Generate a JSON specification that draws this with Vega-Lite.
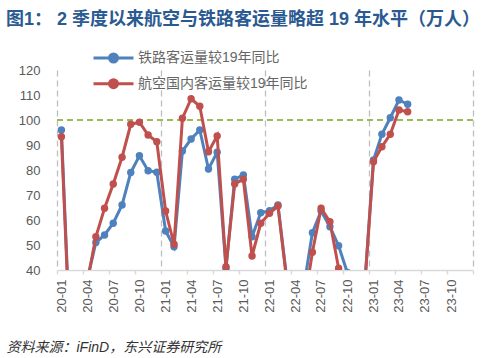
{
  "$schema": "https://vega.github.io/schema/vega-lite/v6.json",
  "width": 416,
  "height": 200,
  "autosize": {"type": "none"},
  "padding": {"left": 57, "top": 70, "right": 8, "bottom": 88},
  "background": "white",
  "title": {
    "text": "图1：  2 季度以来航空与铁路客运量略超 19 年水平（万人）",
    "anchor": "start",
    "frame": "group",
    "dx": -51,
    "dy": -18,
    "fontSize": 18,
    "fontWeight": "bold",
    "color": "#2A5A91",
    "font": "Liberation Sans, Noto Sans CJK SC"
  },
  "config": {
    "font": "Liberation Sans, Noto Sans CJK SC",
    "view": {"stroke": null},
    "legend": {
      "orient": "none",
      "legendX": 49.5,
      "legendY": -19,
      "padding": 0,
      "title": null,
      "symbolType": "M-5,0H5M1,0A1,1,0,1,1,-1,0A1,1,0,1,1,1,0Z",
      "symbolSize": 64,
      "symbolStrokeWidth": 3,
      "labelFontSize": 14,
      "labelColor": "#666666",
      "labelOffset": 17.5,
      "rowPadding": 5.7,
      "labelLimit": 400
    }
  },
  "data": {
    "values": [
      {"m": "2020-01-01", "s": "铁路客运量较19年同比", "v": 96},
      {"m": "2020-02-01", "s": "铁路客运量较19年同比", "v": 14},
      {"m": "2020-03-01", "s": "铁路客运量较19年同比", "v": 25},
      {"m": "2020-04-01", "s": "铁路客运量较19年同比", "v": 36},
      {"m": "2020-05-01", "s": "铁路客运量较19年同比", "v": 51},
      {"m": "2020-06-01", "s": "铁路客运量较19年同比", "v": 54},
      {"m": "2020-07-01", "s": "铁路客运量较19年同比", "v": 58.7},
      {"m": "2020-08-01", "s": "铁路客运量较19年同比", "v": 66},
      {"m": "2020-09-01", "s": "铁路客运量较19年同比", "v": 79},
      {"m": "2020-10-01", "s": "铁路客运量较19年同比", "v": 85.7},
      {"m": "2020-11-01", "s": "铁路客运量较19年同比", "v": 79.7},
      {"m": "2020-12-01", "s": "铁路客运量较19年同比", "v": 79.1},
      {"m": "2021-01-01", "s": "铁路客运量较19年同比", "v": 55.6},
      {"m": "2021-02-01", "s": "铁路客运量较19年同比", "v": 49.3},
      {"m": "2021-03-01", "s": "铁路客运量较19年同比", "v": 87.6},
      {"m": "2021-04-01", "s": "铁路客运量较19年同比", "v": 92.4},
      {"m": "2021-05-01", "s": "铁路客运量较19年同比", "v": 96},
      {"m": "2021-06-01", "s": "铁路客运量较19年同比", "v": 80.4},
      {"m": "2021-07-01", "s": "铁路客运量较19年同比", "v": 87.1},
      {"m": "2021-08-01", "s": "铁路客运量较19年同比", "v": 40.7},
      {"m": "2021-09-01", "s": "铁路客运量较19年同比", "v": 76.3},
      {"m": "2021-10-01", "s": "铁路客运量较19年同比", "v": 78},
      {"m": "2021-11-01", "s": "铁路客运量较19年同比", "v": 53.3},
      {"m": "2021-12-01", "s": "铁路客运量较19年同比", "v": 62.9},
      {"m": "2022-01-01", "s": "铁路客运量较19年同比", "v": 63.7},
      {"m": "2022-02-01", "s": "铁路客运量较19年同比", "v": 66},
      {"m": "2022-03-01", "s": "铁路客运量较19年同比", "v": 38},
      {"m": "2022-04-01", "s": "铁路客运量较19年同比", "v": 20},
      {"m": "2022-05-01", "s": "铁路客运量较19年同比", "v": 33},
      {"m": "2022-06-01", "s": "铁路客运量较19年同比", "v": 54.9},
      {"m": "2022-07-01", "s": "铁路客运量较19年同比", "v": 63.6},
      {"m": "2022-08-01", "s": "铁路客运量较19年同比", "v": 57.3},
      {"m": "2022-09-01", "s": "铁路客运量较19年同比", "v": 49.7},
      {"m": "2022-10-01", "s": "铁路客运量较19年同比", "v": 39},
      {"m": "2022-11-01", "s": "铁路客运量较19年同比", "v": 30},
      {"m": "2022-12-01", "s": "铁路客运量较19年同比", "v": 34},
      {"m": "2023-01-01", "s": "铁路客运量较19年同比", "v": 84},
      {"m": "2023-02-01", "s": "铁路客运量较19年同比", "v": 94.3},
      {"m": "2023-03-01", "s": "铁路客运量较19年同比", "v": 100.9},
      {"m": "2023-04-01", "s": "铁路客运量较19年同比", "v": 108},
      {"m": "2023-05-01", "s": "铁路客运量较19年同比", "v": 106.3},
      {"m": "2020-01-01", "s": "航空国内客运量较19年同比", "v": 93.3},
      {"m": "2020-02-01", "s": "航空国内客运量较19年同比", "v": 12},
      {"m": "2020-03-01", "s": "航空国内客运量较19年同比", "v": 30},
      {"m": "2020-04-01", "s": "航空国内客运量较19年同比", "v": 35},
      {"m": "2020-05-01", "s": "航空国内客运量较19年同比", "v": 53.3},
      {"m": "2020-06-01", "s": "航空国内客运量较19年同比", "v": 64.7},
      {"m": "2020-07-01", "s": "航空国内客运量较19年同比", "v": 74.4},
      {"m": "2020-08-01", "s": "航空国内客运量较19年同比", "v": 85.1},
      {"m": "2020-09-01", "s": "航空国内客运量较19年同比", "v": 98.3},
      {"m": "2020-10-01", "s": "航空国内客运量较19年同比", "v": 99.1},
      {"m": "2020-11-01", "s": "航空国内客运量较19年同比", "v": 94},
      {"m": "2020-12-01", "s": "航空国内客运量较19年同比", "v": 91.3},
      {"m": "2021-01-01", "s": "航空国内客运量较19年同比", "v": 63.6},
      {"m": "2021-02-01", "s": "航空国内客运量较19年同比", "v": 50.3},
      {"m": "2021-03-01", "s": "航空国内客运量较19年同比", "v": 100.7},
      {"m": "2021-04-01", "s": "航空国内客运量较19年同比", "v": 108.5},
      {"m": "2021-05-01", "s": "航空国内客运量较19年同比", "v": 105.5},
      {"m": "2021-06-01", "s": "航空国内客运量较19年同比", "v": 87.3},
      {"m": "2021-07-01", "s": "航空国内客运量较19年同比", "v": 93.6},
      {"m": "2021-08-01", "s": "航空国内客运量较19年同比", "v": 41.3},
      {"m": "2021-09-01", "s": "航空国内客运量较19年同比", "v": 74.4},
      {"m": "2021-10-01", "s": "航空国内客运量较19年同比", "v": 76.3},
      {"m": "2021-11-01", "s": "航空国内客运量较19年同比", "v": 45.6},
      {"m": "2021-12-01", "s": "航空国内客运量较19年同比", "v": 58.7},
      {"m": "2022-01-01", "s": "航空国内客运量较19年同比", "v": 62.7},
      {"m": "2022-02-01", "s": "航空国内客运量较19年同比", "v": 65.6},
      {"m": "2022-03-01", "s": "航空国内客运量较19年同比", "v": 37},
      {"m": "2022-04-01", "s": "航空国内客运量较19年同比", "v": 15},
      {"m": "2022-05-01", "s": "航空国内客运量较19年同比", "v": 25},
      {"m": "2022-06-01", "s": "航空国内客运量较19年同比", "v": 47.1},
      {"m": "2022-07-01", "s": "航空国内客运量较19年同比", "v": 64.7},
      {"m": "2022-08-01", "s": "航空国内客运量较19年同比", "v": 59.3},
      {"m": "2022-09-01", "s": "航空国内客运量较19年同比", "v": 40.7},
      {"m": "2022-10-01", "s": "航空国内客运量较19年同比", "v": 30},
      {"m": "2022-11-01", "s": "航空国内客运量较19年同比", "v": 20},
      {"m": "2022-12-01", "s": "航空国内客运量较19年同比", "v": 33},
      {"m": "2023-01-01", "s": "航空国内客运量较19年同比", "v": 83.3},
      {"m": "2023-02-01", "s": "航空国内客运量较19年同比", "v": 89.3},
      {"m": "2023-03-01", "s": "航空国内客运量较19年同比", "v": 94.3},
      {"m": "2023-04-01", "s": "航空国内客运量较19年同比", "v": 104},
      {"m": "2023-05-01", "s": "航空国内客运量较19年同比", "v": 103.3}
    ]
  },
  "encoding": {
    "x": {
      "field": "m",
      "type": "temporal",
      "timeUnit": "utcyearmonth",
      "bandPosition": 0.5,
      "scale": {
        "type": "utc",
        "domain": [
          {"year": 2020, "month": 1, "date": 1, "utc": true},
          {"year": 2024, "month": 1, "date": 1, "utc": true}
        ]
      },
      "axis": {
        "values": [
          {"year": 2020, "month": 1, "date": 1, "utc": true},
          {"year": 2020, "month": 4, "date": 1, "utc": true},
          {"year": 2020, "month": 7, "date": 1, "utc": true},
          {"year": 2020, "month": 10, "date": 1, "utc": true},
          {"year": 2021, "month": 1, "date": 1, "utc": true},
          {"year": 2021, "month": 4, "date": 1, "utc": true},
          {"year": 2021, "month": 7, "date": 1, "utc": true},
          {"year": 2021, "month": 10, "date": 1, "utc": true},
          {"year": 2022, "month": 1, "date": 1, "utc": true},
          {"year": 2022, "month": 4, "date": 1, "utc": true},
          {"year": 2022, "month": 7, "date": 1, "utc": true},
          {"year": 2022, "month": 10, "date": 1, "utc": true},
          {"year": 2023, "month": 1, "date": 1, "utc": true},
          {"year": 2023, "month": 4, "date": 1, "utc": true},
          {"year": 2023, "month": 7, "date": 1, "utc": true},
          {"year": 2023, "month": 10, "date": 1, "utc": true},
          {"year": 2024, "month": 1, "date": 1, "utc": true}
        ],
        "labelExpr": "utcyear(datum.value) >= 2024 ? '' : utcFormat(datum.value, '%y-%m')",
        "labelAngle": 270,
        "labelOffset": 4.3,
        "labelPadding": 5,
        "labelFontSize": 13,
        "labelColor": "#595959",
        "domainColor": "#D9D9D9",
        "domainWidth": 1.5,
        "tickColor": "#D9D9D9",
        "tickWidth": 1.5,
        "tickSize": 4,
        "grid": true,
        "gridColor": "#BFBFBF",
        "gridDash": [6, 4],
        "gridWidth": 1.3,
        "gridOpacity": {"condition": {"test": "utcmonth(datum.value) == 0", "value": 1}, "value": 0},
        "title": "资料来源：iFinD，东兴证券研究所",
        "titleX": -51,
        "titleY": 77,
        "titleAlign": "left",
        "titleAnchor": "start",
        "titleBaseline": "middle",
        "titleFontStyle": "italic",
        "titleFontWeight": "normal",
        "titleFontSize": 14,
        "titleColor": "#333333"
      }
    },
    "y": {
      "field": "v",
      "type": "quantitative",
      "scale": {"domain": [40, 120], "nice": false, "zero": false},
      "axis": {
        "values": [40, 50, 60, 70, 80, 90, 100, 110, 120],
        "grid": false,
        "domain": false,
        "ticks": false,
        "tickSize": 0,
        "labelPadding": 17,
        "labelFontSize": 13,
        "labelColor": "#595959",
        "title": null
      }
    },
    "color": {
      "field": "s",
      "type": "nominal",
      "scale": {
        "domain": ["铁路客运量较19年同比", "航空国内客运量较19年同比"],
        "range": ["#4F81BD", "#C0504D"]
      },
      "legend": {
        "encode": {
          "symbols": {"update": {"fill": {"scale": "color", "field": "value"}, "stroke": {"scale": "color", "field": "value"}}}
        }
      }
    }
  },
  "layer": [
    {
      "data": {"values": [{"ref": 100}]},
      "mark": {"type": "rule", "color": "#9BBB59", "strokeWidth": 2, "strokeDash": [6, 4]},
      "encoding": {
        "x": null,
        "color": null,
        "y": {"field": "ref", "type": "quantitative"}
      }
    },
    {
      "transform": [{"filter": "datum.s == '铁路客运量较19年同比'"}],
      "mark": {"type": "line", "strokeWidth": 3, "clip": true, "point": {"filled": true, "size": 55}}
    },
    {
      "transform": [{"filter": "datum.s == '航空国内客运量较19年同比'"}],
      "mark": {"type": "line", "strokeWidth": 3, "clip": true, "point": {"filled": true, "size": 55}}
    }
  ]
}
